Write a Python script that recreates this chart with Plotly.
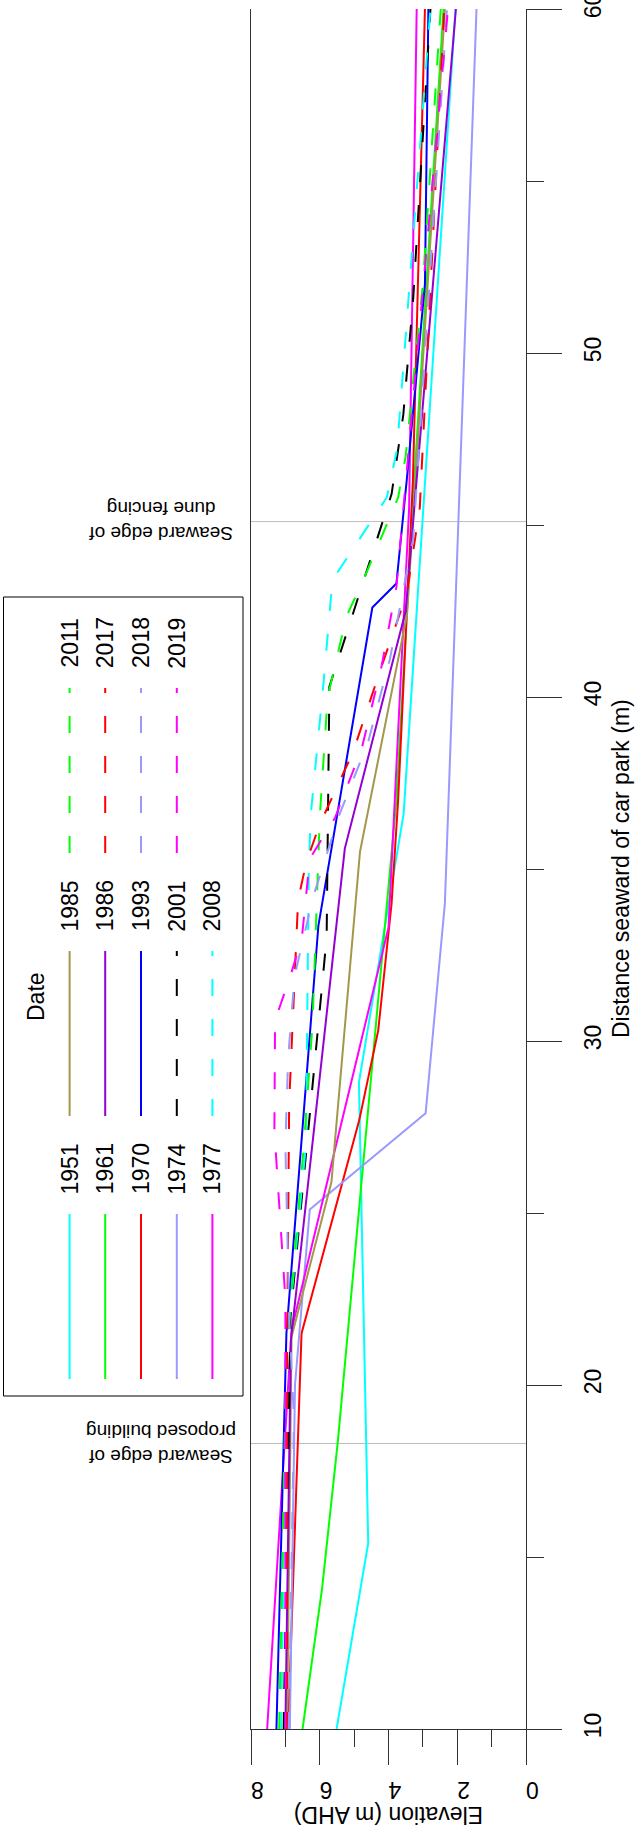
import plotly.graph_objects as go

# ---------------- data (distance seaward of car park, m / elevation, m AHD) ----------------
years = ["1951", "1961", "1970", "1974", "1977", "1985", "1986",
         "1993", "2001", "2008", "2011", "2017", "2018", "2019"]

colors = ["#00FFFF", "#00FF00", "#FF0000", "#9999FF", "#FF00FF", "#A3984A", "#9400D3",
          "#0000FF", "#000000", "#00FFFF", "#00FF00", "#FF0000", "#9999FF", "#FF00FF"]

dashed = [False, False, False, False, False, False, False,
          False, True, True, True, True, True, True]

dist_1951 = [10, 15.4, 28.8, 36.6, 60]
elev_1951 = [5.51, 4.59, 4.86, 3.56, 2.05]

dist_1961 = [10, 14.1, 18.4, 37.0, 46.3, 60]
elev_1961 = [6.50, 5.93, 5.47, 3.77, 3.25, 2.40]

dist_1970 = [10, 21.5, 27.7, 30.3, 34.0, 37.0, 46.3, 60]
elev_1970 = [6.92, 6.53, 4.85, 4.30, 3.91, 3.72, 3.29, 2.94]

dist_1974 = [10, 20, 25.1, 27.9, 34.0, 60]
elev_1974 = [6.87, 6.72, 6.29, 2.92, 2.36, 1.44]

dist_1977 = [10, 21.6, 33.3, 45.5, 60]
elev_1977 = [7.53, 6.82, 4.00, 3.40, 3.18]

dist_1985 = [10, 21.4, 25.9, 35.5, 42.4, 60]
elev_1985 = [6.95, 6.82, 5.66, 4.83, 3.46, 2.36]

dist_1986 = [10, 21.3, 35.6, 42.5, 60]
elev_1986 = [7.00, 6.84, 5.27, 3.50, 2.04]

dist_1993 = [10, 21.5, 33.35, 42.6, 43.3, 46.3, 52, 60]
elev_1993 = [7.26, 6.97, 6.04, 4.47, 3.77, 3.47, 2.94, 2.84]

dist_2001 = [10, 22, 33, 40.3, 45.9, 48.2, 51.6, 60]
elev_2001 = [7.05, 6.85, 5.80, 5.72, 3.91, 3.57, 3.28, 2.78]

dist_2008 = [10, 21, 27, 35, 36.6, 40.3, 43.4, 45.8, 47.2, 60]
elev_2008 = [7.12, 6.97, 6.40, 6.32, 6.26, 5.90, 5.63, 4.05, 3.75, 2.78]

dist_2011 = [10, 18, 21, 27, 30.5, 36.5, 40.0, 42.35, 43.5, 45.8, 47, 52, 60]
elev_2011 = [7.18, 7.04, 6.97, 6.46, 6.21, 6.00, 5.77, 5.22, 4.69, 3.72, 3.50, 3.00, 2.48]

dist_2017 = [10, 21, 28.2, 31.7, 34.1, 35.2, 36.3, 38.4, 40.75, 43.0, 45.5, 60]
elev_2017 = [6.95, 6.95, 6.89, 6.73, 6.63, 6.39, 6.00, 5.03, 4.25, 3.47, 3.09, 2.38]

dist_2018 = [10, 19, 22, 27, 29.5, 31.9, 34.2, 36.6, 38.7, 41.1, 44.6, 60]
elev_2018 = [6.90, 6.75, 6.89, 7.00, 6.92, 6.73, 6.19, 5.42, 4.59, 3.96, 3.28, 2.30]

dist_2019 = [10, 22.5, 24.8, 27.4, 30.6, 31.9, 33.0, 35.3, 36.5, 38.5, 40.9, 43.2, 60]
elev_2019 = [7.00, 7.00, 7.15, 7.32, 7.30, 6.85, 6.52, 6.29, 5.55, 4.78, 4.20, 3.77, 2.27]

distances = [dist_1951, dist_1961, dist_1970, dist_1974, dist_1977, dist_1985, dist_1986,
             dist_1993, dist_2001, dist_2008, dist_2011, dist_2017, dist_2018, dist_2019]
elevations = [elev_1951, elev_1961, elev_1970, elev_1974, elev_1977, elev_1985, elev_1986,
              elev_1993, elev_2001, elev_2008, elev_2011, elev_2017, elev_2018, elev_2019]

dist_ticks = [10, 20, 30, 40, 50, 60]
dist_minor = [15, 25, 35, 45, 55]
elev_ticks = [0, 2, 4, 6, 8]
elev_minor = [1, 3, 5, 7]

ref_lines = [18.3, 45.1]
ref_labels = ["Seaward edge of<br>proposed building", "Seaward edge of<br>dune fencing"]

# ---------------- layout geometry ----------------
W_FIG, H_FIG = 642, 1832
L, R, T, B = 251, 116, 9, 103
PW = W_FIG - L - R
PH = H_FIG - T - B
FONT = "Liberation Sans, Arial, Helvetica, sans-serif"
DASH = "17px,23px"
AX = "#333333"


def xp(px):
    return (px - L) / PW


def yp(py):
    return (T + PH - py) / PH


fig = go.Figure()

for yr, d, e, c, ds in zip(years, distances, elevations, colors, dashed):
    fig.add_trace(go.Scatter(
        x=e, y=d, mode="lines", name=yr, showlegend=False,
        line=dict(color=c, width=2, dash=DASH if ds else "solid"),
        hoverinfo="skip"))

shapes = []
annotations = []

# reference (grey) lines with rotated labels
for dref, lab in zip(ref_lines, ref_labels):
    shapes.append(dict(type="line", xref="x", yref="y", x0=8, x1=0, y0=dref, y1=dref,
                       line=dict(color="#BEBEBE", width=1), layer="below"))
    annotations.append(dict(text=lab, xref="paper", yref="y", x=xp(161), y=dref,
                            textangle=180, showarrow=False, xanchor="center", yanchor="middle",
                            font=dict(family=FONT, size=19, color="black")))

# axis titles
annotations.append(dict(text="Elevation (m AHD)", xref="paper", yref="paper",
                        x=0.5, y=yp(1815), textangle=180, showarrow=False,
                        xanchor="center", yanchor="middle",
                        font=dict(family=FONT, size=23, color="black")))
annotations.append(dict(text="Distance seaward of car park (m)", xref="paper", yref="paper",
                        x=xp(621), y=0.5, textangle=-90, showarrow=False,
                        xanchor="center", yanchor="middle",
                        font=dict(family=FONT, size=23, color="black")))

# manual (rotated) legend
shapes.append(dict(type="rect", xref="paper", yref="paper",
                   x0=xp(3.5), x1=xp(243), y0=yp(1396), y1=yp(597),
                   line=dict(color="black", width=1)))
annotations.append(dict(text="Date", xref="paper", yref="paper", x=xp(36), y=yp(997),
                        textangle=-90, showarrow=False, xanchor="center", yanchor="middle",
                        font=dict(family=FONT, size=23, color="black")))
group_bottom = [1379, 1116, 853]
row_x = [69.6, 105.2, 141.0, 176.8, 212.4]
seg = 165
for i, (yr, c, ds) in enumerate(zip(years, colors, dashed)):
    g, r = divmod(i, 5)
    xb = row_x[r]
    y0 = group_bottom[g]
    y1 = y0 - seg
    shapes.append(dict(type="line", xref="paper", yref="paper",
                       x0=xp(xb), x1=xp(xb), y0=yp(y0), y1=yp(y1),
                       line=dict(color=c, width=2, dash=DASH if ds else "solid")))
    annotations.append(dict(text=yr, xref="paper", yref="paper", x=xp(xb), y=yp(y1 - 20 - 25),
                            textangle=-90, showarrow=False, xanchor="center", yanchor="middle",
                            font=dict(family=FONT, size=23, color="black")))

fig.update_layout(
    width=W_FIG, height=H_FIG,
    margin=dict(l=L, r=R, t=T, b=B, pad=0, autoexpand=False),
    paper_bgcolor="white", plot_bgcolor="white",
    shapes=shapes, annotations=annotations,
    font=dict(family=FONT, size=23, color="black"),
)

fig.update_xaxes(
    range=[8, 0], tickmode="array", tickvals=elev_ticks, ticktext=[str(v) for v in elev_ticks],
    ticks="outside", ticklen=35, tickwidth=1, tickcolor=AX, automargin=False,
    ticklabeloverflow="allow", ticklabelstandoff=12,
    showline=True, linecolor=AX, linewidth=1, showgrid=False, zeroline=False,
    tickangle=180, tickfont=dict(family=FONT, size=23, color="black"),
    minor=dict(tickvals=elev_minor, ticks="outside", ticklen=17, tickwidth=1, tickcolor=AX),
)
fig.update_yaxes(
    range=[10, 60], side="right", tickmode="array", tickvals=dist_ticks,
    ticktext=[str(v) for v in dist_ticks], automargin=False,
    ticklabeloverflow="allow", ticklabelstandoff=11,
    ticks="outside", ticklen=35, tickwidth=1, tickcolor=AX,
    showline=True, mirror=True, linecolor=AX, linewidth=1, showgrid=False, zeroline=False,
    tickangle=-90, tickfont=dict(family=FONT, size=23, color="black"),
    minor=dict(tickvals=dist_minor, ticks="outside", ticklen=17, tickwidth=1, tickcolor=AX),
)

fig.write_html("out.html", config={"displayModeBar": False},
               post_script="document.body.style.margin='0';document.body.style.padding='0';")
